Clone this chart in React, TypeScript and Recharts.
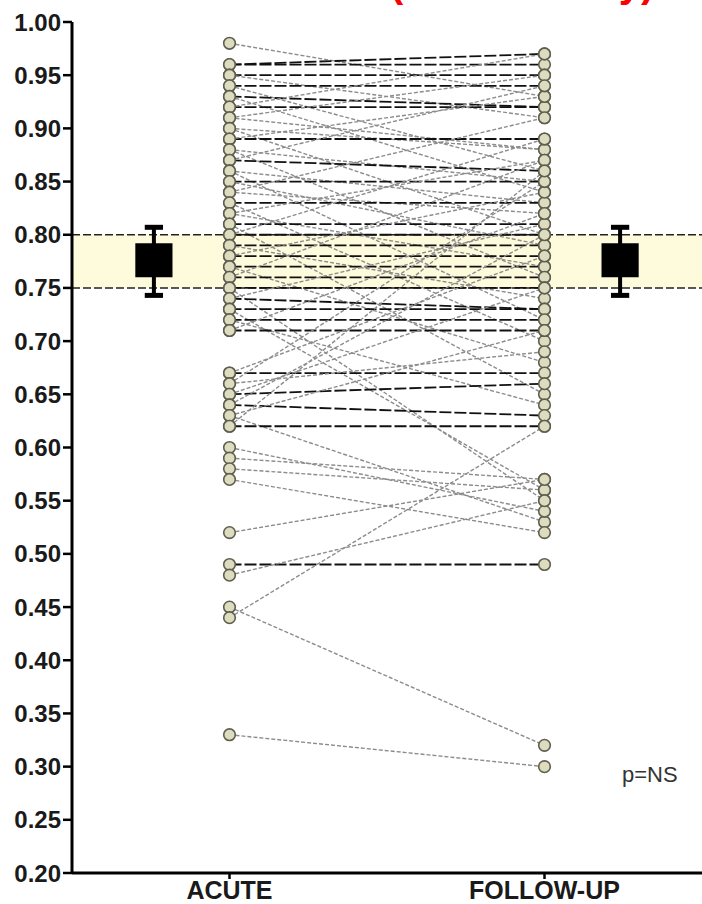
import React from 'react';
import { ScatterChart, Scatter, XAxis, YAxis, ReferenceArea, ReferenceLine } from 'recharts';

// ---- data ----
const categories = ['ACUTE', 'FOLLOW-UP'];
const categoryX = [1, 2];

const acute = [
  0.98, 0.96, 0.96, 0.95, 0.95, 0.94, 0.94, 0.93, 0.93, 0.92, 0.92, 0.91, 0.91, 0.90, 0.90,
  0.89, 0.89, 0.88, 0.88, 0.87, 0.87, 0.86, 0.86, 0.85, 0.85, 0.84, 0.84, 0.83, 0.83, 0.82,
  0.82, 0.81, 0.81, 0.80, 0.80, 0.79, 0.79, 0.78, 0.78, 0.77, 0.77, 0.76, 0.76, 0.75, 0.75,
  0.74, 0.74, 0.73, 0.73, 0.72, 0.72, 0.71, 0.71, 0.67, 0.67, 0.66, 0.66, 0.65, 0.65, 0.64,
  0.64, 0.63, 0.63, 0.62, 0.62, 0.60, 0.59, 0.58, 0.57, 0.52, 0.49, 0.48, 0.45, 0.44, 0.33,
];
const followUp = [
  0.93, 0.96, 0.97, 0.95, 0.91, 0.94, 0.86, 0.92, 0.84, 0.92, 0.97, 0.88, 0.95, 0.88, 0.80,
  0.89, 0.93, 0.85, 0.76, 0.86, 0.94, 0.83, 0.72, 0.85, 0.79, 0.82, 0.91, 0.83, 0.70, 0.87,
  0.77, 0.81, 0.65, 0.80, 0.89, 0.79, 0.74, 0.78, 0.84, 0.77, 0.68, 0.76, 0.87, 0.75, 0.55,
  0.73, 0.81, 0.73, 0.56, 0.72, 0.64, 0.71, 0.82, 0.67, 0.78, 0.69, 0.85, 0.66, 0.75, 0.63,
  0.80, 0.71, 0.53, 0.62, 0.86, 0.54, 0.57, 0.56, 0.52, 0.57, 0.49, 0.55, 0.32, 0.62, 0.30,
];

const yTicks = [0.2, 0.25, 0.3, 0.35, 0.4, 0.45, 0.5, 0.55, 0.6, 0.65, 0.7, 0.75, 0.8, 0.85, 0.9, 0.95, 1.0];
const normalBand = [0.75, 0.8];

// summary markers (mean box with whiskers) for each group
const summaryX = [0.76, 2.24];
const boxLow = [0.76, 0.76];
const boxHigh = [0.792, 0.792];
const whiskerLow = [0.743, 0.743];
const whiskerHigh = [0.807, 0.807];

// ---- styles ----
const BOX_HALF = 0.059;
const CAP_HALF = 0.029;
const FONT = '"Liberation Sans", Arial, Helvetica, sans-serif';

const pairs = acute.map((a, i) => [
  { x: categoryX[0], y: a },
  { x: categoryX[1], y: followUp[i] },
]);
const points = [
  ...acute.map((v) => ({ x: categoryX[0], y: v })),
  ...followUp.map((v) => ({ x: categoryX[1], y: v })),
];

const Empty = () => <g />;
const Dot = (props: any) => (
  <circle cx={props.cx} cy={props.cy} r={5.8} fill="#DEDCBF" stroke="#5E5E50" strokeWidth={1.6} />
);

export default function App() {
  return (
    <div style={{ position: 'absolute', left: 0, top: 0, width: 702, height: 904, overflow: 'hidden', background: '#fff' }}>
      <ScatterChart width={702} height={904} margin={{ top: 22, right: 0, bottom: 0, left: 0 }}>
        <ReferenceArea
          y1={normalBand[0]}
          y2={normalBand[1]}
          x1={0.5}
          x2={2.5}
          fill="#FEFBDD"
          fillOpacity={1}
          stroke="none"
        />
        <ReferenceLine y={normalBand[1]} stroke="#222" strokeWidth={1.5} strokeDasharray="8 3" />
        <ReferenceLine y={normalBand[0]} stroke="#222" strokeWidth={1.5} strokeDasharray="8 3" />
        <XAxis
          dataKey="x"
          type="number"
          domain={[0.5, 2.5]}
          allowDataOverflow
          ticks={categoryX}
          interval={0}
          tickFormatter={(v: number) => categories[categoryX.indexOf(v)] ?? ''}
          height={31}
          tickSize={6}
          tickMargin={2}
          axisLine={{ stroke: '#000', strokeWidth: 3 }}
          tickLine={{ stroke: '#000', strokeWidth: 2.5 }}
          tick={{ fill: '#1a1a1a', fontSize: 25, fontWeight: 700, fontFamily: FONT }}
        />
        <YAxis
          dataKey="y"
          type="number"
          domain={[0.2, 1.0]}
          allowDataOverflow
          ticks={yTicks}
          interval={0}
          tickFormatter={(v: number) => v.toFixed(2)}
          width={72}
          tickSize={9}
          tickMargin={2}
          axisLine={{ stroke: '#000', strokeWidth: 3 }}
          tickLine={{ stroke: '#000', strokeWidth: 2.5 }}
          tick={{ fill: '#1a1a1a', fontSize: 24, fontWeight: 700, fontFamily: FONT }}
        />
        {pairs.map((p, i) => {
          const same = Math.abs(Math.round((p[1].y - p[0].y) * 100)) <= 1;
          return (
            <Scatter
              key={'l' + i}
              data={p}
              line={{
                stroke: same ? '#111' : '#8C8C8C',
                strokeWidth: same ? 1.8 : 1.4,
                strokeDasharray: same ? '12 3' : '4 2',
              }}
              shape={Empty}
              isAnimationActive={false}
            />
          );
        })}
        <Scatter data={points} shape={Dot} isAnimationActive={false} />
        {summaryX.map((x, i) => (
          <ReferenceArea
            key={'b' + i}
            x1={x - BOX_HALF}
            x2={x + BOX_HALF}
            y1={boxLow[i]}
            y2={boxHigh[i]}
            fill="#000"
            fillOpacity={1}
            stroke="none"
          />
        ))}
        {summaryX.map((x, i) => (
          <ReferenceLine
            key={'s' + i}
            segment={[{ x, y: whiskerLow[i] }, { x, y: whiskerHigh[i] }]}
            stroke="#000"
            strokeWidth={4}
          />
        ))}
        {summaryX.map((x, i) => (
          <ReferenceLine
            key={'ct' + i}
            segment={[{ x: x - CAP_HALF, y: whiskerHigh[i] }, { x: x + CAP_HALF, y: whiskerHigh[i] }]}
            stroke="#000"
            strokeWidth={5}
          />
        ))}
        {summaryX.map((x, i) => (
          <ReferenceLine
            key={'cb' + i}
            segment={[{ x: x - CAP_HALF, y: whiskerLow[i] }, { x: x + CAP_HALF, y: whiskerLow[i] }]}
            stroke="#000"
            strokeWidth={5}
          />
        ))}
      </ScatterChart>
      <div
        style={{
          position: 'absolute',
          left: 390,
          top: -37,
          fontFamily: FONT,
          fontWeight: 700,
          fontSize: 40,
          lineHeight: '40px',
          color: '#FF0000',
          whiteSpace: 'nowrap',
        }}
      >
        (Whole study)
      </div>
      <div
        style={{
          position: 'absolute',
          left: 622,
          top: 764,
          fontFamily: FONT,
          fontSize: 22,
          lineHeight: '22px',
          color: '#333',
          whiteSpace: 'nowrap',
        }}
      >
        p=NS
      </div>
    </div>
  );
}
